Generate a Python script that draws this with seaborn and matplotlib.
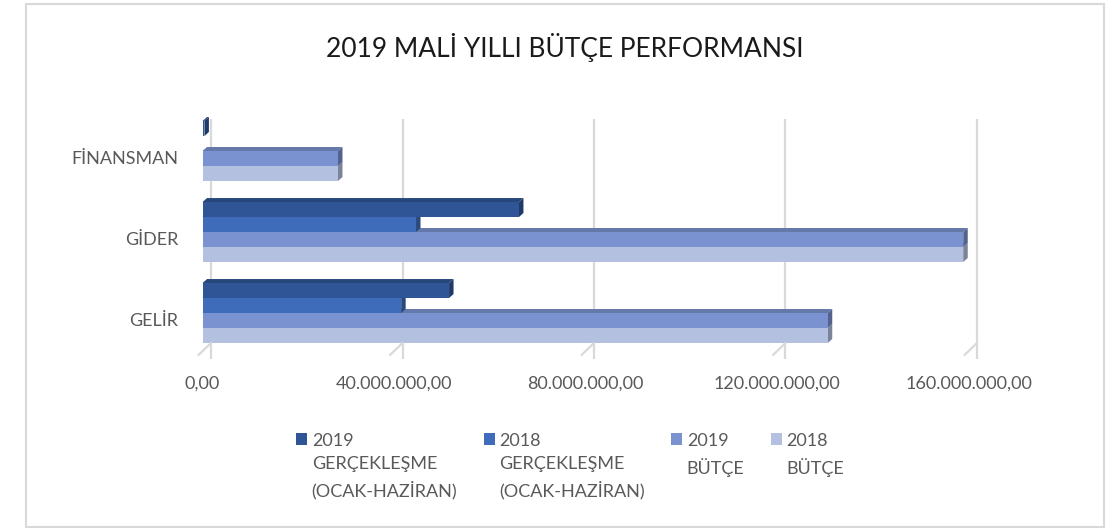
import numpy as np
import pandas as pd
import seaborn as sns
import matplotlib.pyplot as plt
import matplotlib.colors as mcolors
from matplotlib.patches import Polygon, Rectangle
from matplotlib.lines import Line2D
from matplotlib.transforms import ScaledTranslation, IdentityTransform
from matplotlib.ticker import FuncFormatter

# ---------------- data ----------------
categories = ["FİNANSMAN", "GİDER", "GELİR"]
series_labels = [
    "2019\nGERÇEKLEŞME\n(OCAK-HAZİRAN)",
    "2018\nGERÇEKLEŞME\n(OCAK-HAZİRAN)",
    "2019\nBÜTÇE",
    "2018\nBÜTÇE",
]
gerceklesme_2019 = [400_000, 66_100_000, 51_500_000]
gerceklesme_2018 = [0, 44_600_000, 41_500_000]
butce_2019 = [28_300_000, 158_900_000, 130_600_000]
butce_2018 = [28_300_000, 158_900_000, 130_600_000]
x_ticks = [0, 40_000_000, 80_000_000, 120_000_000, 160_000_000]
title = "2019 MALİ YILLI BÜTÇE PERFORMANSI"
colors = ["#2F5597", "#3E6BBA", "#7A92CF", "#B3C0E0"]

rows = []
for s, vals in zip(series_labels, [gerceklesme_2019, gerceklesme_2018, butce_2019, butce_2018]):
    for c, v in zip(categories, vals):
        rows.append({"Kategori": c, "Seri": s, "Değer": v})
df = pd.DataFrame(rows)

# ---------------- style ----------------
sns.set_theme(style="white")
plt.rcParams["font.family"] = ["Lato", "DejaVu Sans"]
TXT = "#595959"

W, H = 1106, 529
fig = plt.figure(figsize=(W / 100, H / 100), dpi=100)
ax_left, ax_right, ax_top, ax_bottom = 202.5, 968.5, 111, 351
ax = fig.add_axes([ax_left / W, 1 - ax_bottom / H, (ax_right - ax_left) / W, (ax_bottom - ax_top) / H])

sns.barplot(data=df, y="Kategori", x="Değer", hue="Seri", orient="h",
            palette=colors, saturation=1, width=0.74, gap=0,
            linewidth=0, edgecolor="none", ax=ax, zorder=3, legend=True)

ax.set_xlim(0, 160_000_000)
ax.set_ylim(2.469, -0.494)
ax.set_xticks(x_ticks)
ax.xaxis.set_major_formatter(FuncFormatter(
    lambda v, _: f"{v:,.2f}".replace(",", "X").replace(".", ",").replace("X", ".")))
ax.set_xlabel("")
ax.set_ylabel("")
for sp in ax.spines.values():
    sp.set_visible(False)
ax.grid(False)
ax.tick_params(axis="x", length=0, pad=18, labelsize=13, labelcolor=TXT)
ax.tick_params(axis="y", length=0, pad=17.5, labelsize=13, labelcolor=TXT)
for lbl in ax.get_yticklabels():
    lbl.set_transform(lbl.get_transform() + ScaledTranslation(0, -0.06, fig.dpi_scale_trans))

# back-wall gridlines (3D offset)
back = ScaledTranslation(0.085, -0.08, fig.dpi_scale_trans)
for v in x_ticks:
    ax.plot([v, v], [0, 1], transform=ax.get_xaxis_transform() + back,
            color="#d9d9d9", lw=1.6, zorder=1, clip_on=False, solid_capstyle="butt")

# floor diagonals (display coords)
for v in x_ticks:
    px, py = ax.transData.transform((v, ax.get_ylim()[0]))
    fig.add_artist(Line2D([px - 4, px + 8.5], [py - 4, py + 8], transform=IdentityTransform(),
                          color="#d9d9d9", lw=1.6))

# pseudo-3D bar faces
def shade(c, f):
    r, g, b = mcolors.to_rgb(c)
    return (r * f, g * f, b * f)

dx, dy = 4.5, 4
for cont, col in zip(ax.containers, colors):
    for rect in cont:
        w = rect.get_width()
        if w <= 0:
            continue
        x, y, h = rect.get_x(), rect.get_y(), rect.get_height()
        (x0, ya), (x1, yb) = ax.transData.transform([(x, y), (x + w, y + h)])
        yt, ybm = max(ya, yb), min(ya, yb)
        top = Polygon([(x0, yt), (x1, yt), (x1 + dx, yt + dy), (x0 + dx, yt + dy)],
                      closed=True, transform=IdentityTransform(), facecolor=shade(col, 0.82),
                      edgecolor="none", zorder=2.5)
        side = Polygon([(x1, yt), (x1, ybm), (x1 + dx, ybm + dy), (x1 + dx, yt + dy)],
                       closed=True, transform=IdentityTransform(), facecolor=shade(col, 0.68),
                       edgecolor="none", zorder=2.6)
        ax.add_patch(top)
        ax.add_patch(side)
        top.set_clip_on(False)
        side.set_clip_on(False)

# legend
handles, labels = ax.get_legend_handles_labels()
ax.legend_.remove()
leg = fig.legend(handles, labels, loc="upper left", bbox_to_anchor=(287 / W, 1 - 424 / H),
                 ncol=4, frameon=False, fontsize=13, labelcolor=TXT, borderpad=0,
                 handlelength=0.62, handleheight=0.62, handletextpad=0.25, columnspacing=1.45)
for t in leg.get_texts():
    t.set_linespacing(1.55)
try:
    leg._legend_handle_box.align = "top"
    for col in leg._legend_handle_box.get_children():
        col.align = "left"
        for row in col.get_children():
            row.align = "top"
except Exception:
    pass

# title
fig.text(565 / W, 1 - 47 / H, title, ha="center", va="center", fontsize=19, color="#1a1a1a")

# outer border
fig.add_artist(Rectangle((26 / W, 1 - 527 / H), (1104 - 26) / W, (527 - 4) / H,
                         transform=fig.transFigure, fill=False, edgecolor="#d9d9d9", lw=1.5))

fig.savefig("out.png", dpi=100)
